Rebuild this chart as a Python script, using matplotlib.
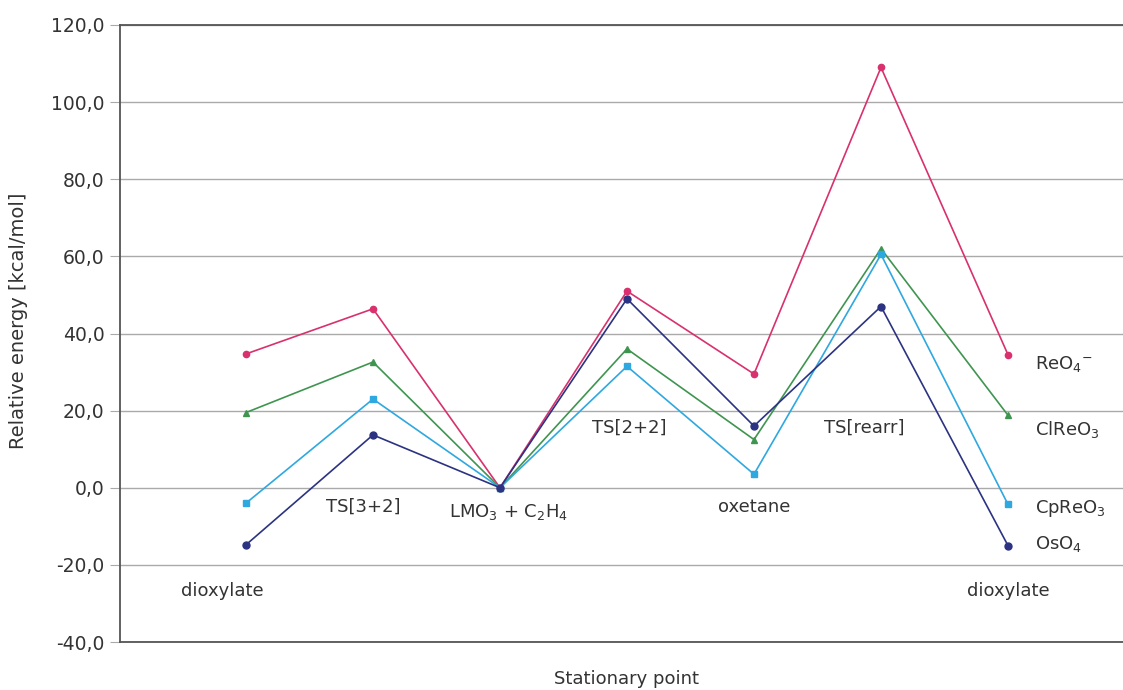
import matplotlib
matplotlib.use("Agg")
import matplotlib.pyplot as plt
from matplotlib.ticker import FuncFormatter

plt.rcParams['font.family'] = ['DejaVu Sans']
plt.rcParams['mathtext.fontset'] = 'dejavusans'
plt.rcParams['mathtext.default'] = 'regular'

points = ["dioxylate", "TS[3+2]", "LMO3 + C2H4", "TS[2+2]", "oxetane", "TS[rearr]", "dioxylate"]
reo4 = [34.7, 46.4, 0.0, 51.0, 29.5, 109.0, 34.5]
clreo3 = [19.5, 32.6, 0.0, 36.0, 12.5, 62.0, 18.8]
cpreo3 = [-4.0, 23.0, 0.0, 31.5, 3.5, 60.5, -4.3]
oso4 = [-14.8, 13.7, 0.0, 49.0, 16.0, 47.0, -15.0]

series = [
    ("ReO$_4$$^{-}$", reo4, "#d8316e", "o", 4.5),
    ("ClReO$_3$", clreo3, "#3f9550", "^", 5),
    ("CpReO$_3$", cpreo3, "#2fa8e0", "s", 5),
    ("OsO$_4$", oso4, "#2b3382", "o", 5),
]
end_label_y = [32.0, 15.0, -5.5, -14.5]

point_labels = [
    (-0.19, -26.7, "dioxylate"),
    (0.92, -4.9, "TS[3+2]"),
    (2.07, -6.3, "LMO$_3$ + C$_2$H$_4$"),
    (3.02, 15.5, "TS[2+2]"),
    (4.0, -4.9, "oxetane"),
    (4.87, 15.5, "TS[rearr]"),
    (6.0, -26.7, "dioxylate"),
]

fs = 13
fig = plt.figure(figsize=(11.23, 6.9), dpi=100)
ax = fig.add_axes([120/1123, 48/690, 1050/1123, 617/690])
x = list(range(len(points)))
for name, vals, col, mk, ms in series:
    ax.plot(x, vals, color=col, lw=1.2, marker=mk, ms=ms, mec=col, mfc=col)

for (name, vals, col, mk, ms), ly in zip(series, end_label_y):
    ax.text(6.21, ly, name, fontsize=fs, color="#333333", va="center", ha="left")

for xi, yi, txt in point_labels:
    ax.text(xi, yi, txt, ha="center", va="center", fontsize=fs, color="#333333")

ax.set_xlim(-0.992, -0.992 + 1050/127)
ax.set_ylim(-40, 120)
ax.set_yticks(range(-40, 121, 20))
ax.yaxis.set_major_formatter(FuncFormatter(lambda v, p: f"{v:.1f}".replace(".", ",")))
ax.set_xticks([])
ax.grid(axis="y", color="#aaaaaa", lw=1)
ax.set_axisbelow(True)
for s in ["left", "bottom", "top"]:
    ax.spines[s].set_color("#555555")
    ax.spines[s].set_linewidth(1.3)
ax.spines["right"].set_visible(False)
ax.tick_params(axis="y", length=7, color="#aaaaaa", labelsize=13.5, labelcolor="#333333", pad=4)
ax.set_ylabel("Relative energy [kcal/mol]", fontsize=14, color="#333333")
ax.yaxis.set_label_coords(-0.088, 0.52)
fig.text(627/1123, 1 - 679/690, "Stationary point", ha="center", va="center", fontsize=fs, color="#333333")

fig.savefig("out.png", dpi=100)
